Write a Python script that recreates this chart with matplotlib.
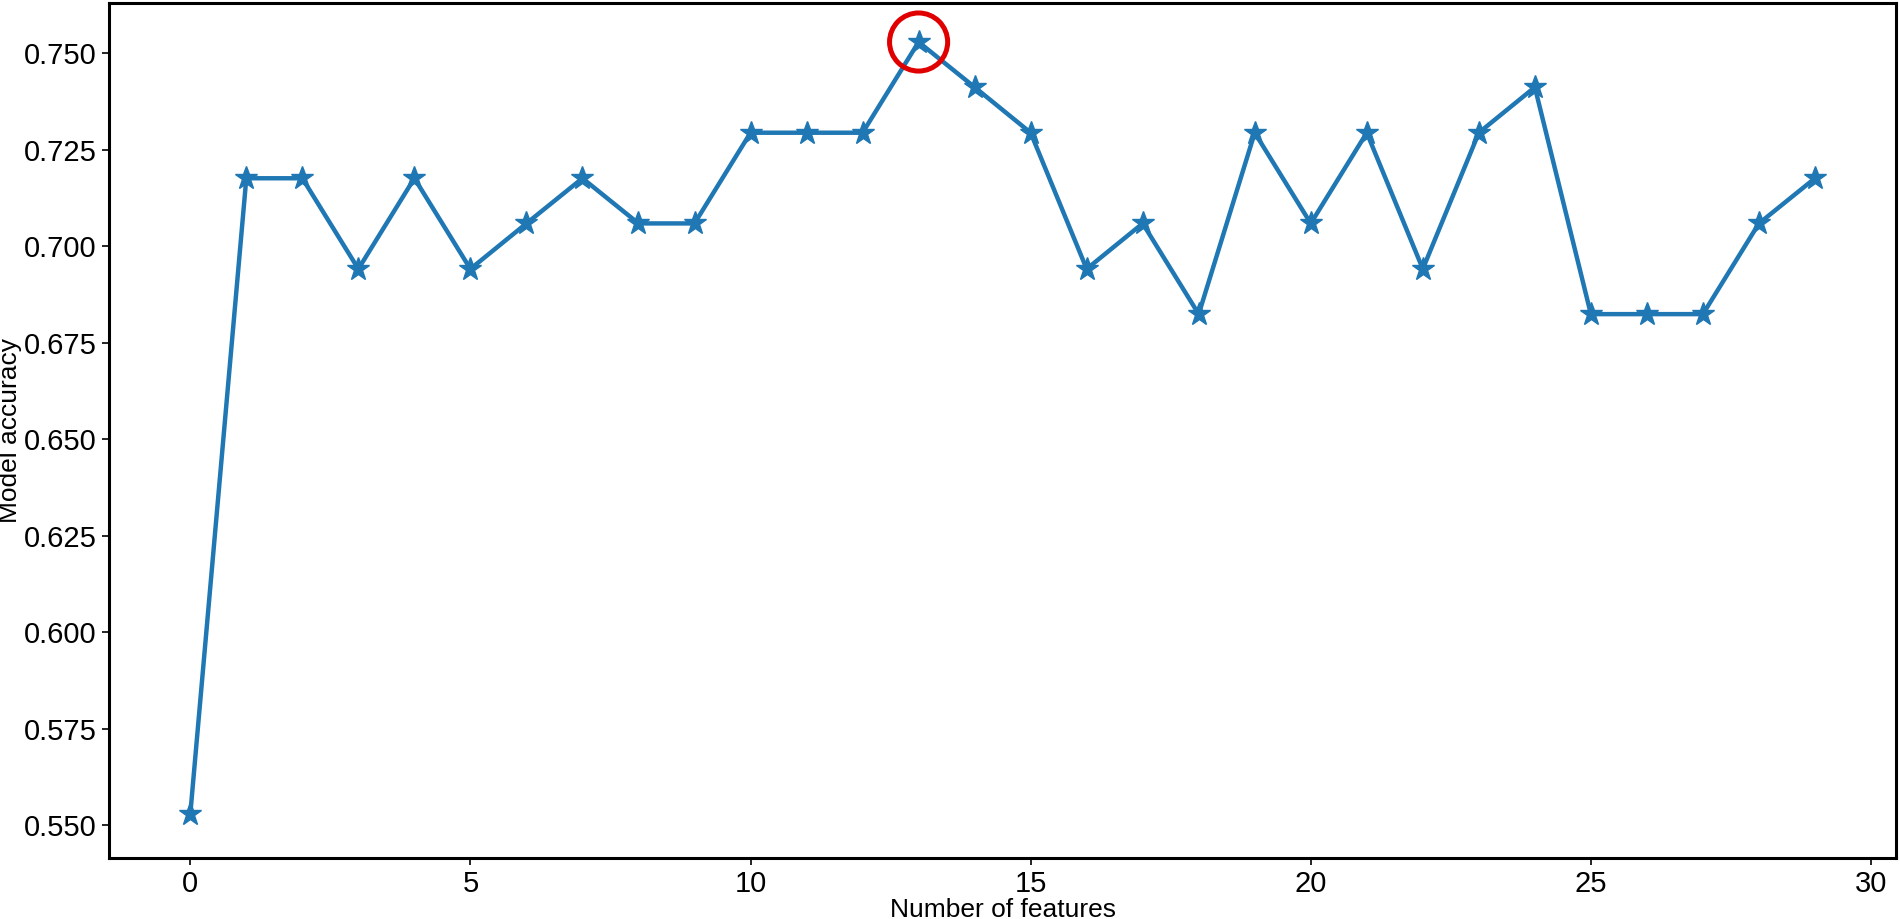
import numpy as np
import matplotlib
matplotlib.use("Agg")
import matplotlib.pyplot as plt

plt.rcParams["font.family"] = ["Liberation Sans", "DejaVu Sans"]

# number of features (index) and model accuracy
n_features = list(range(30))
accuracy = [
    0.5529, 0.7176, 0.7176, 0.6941, 0.7176, 0.6941, 0.7059, 0.7176, 0.7059, 0.7059,
    0.7294, 0.7294, 0.7294, 0.7529, 0.7412, 0.7294, 0.6941, 0.7059, 0.6824, 0.7294,
    0.7059, 0.7294, 0.6941, 0.7294, 0.7412, 0.6824, 0.6824, 0.6824, 0.7059, 0.7176,
]
best = int(np.argmax(accuracy))

fig = plt.figure(figsize=(19, 9.19), dpi=100)
ax = fig.add_axes([0.0574, 0.0664, 0.9406, 0.9303])

ax.plot(n_features, accuracy, marker="*", linestyle="-", color="#1f77b4",
        linewidth=3.2, markersize=17)
ax.scatter([n_features[best]], [accuracy[best]], s=1750, facecolors="none",
           edgecolors="#e00000", linewidths=3.6, zorder=5)

ax.set_xlabel("Number of features", fontsize=19, labelpad=0)
ax.set_ylabel("Model accuracy", fontsize=19, labelpad=1)
ax.tick_params(labelsize=21, width=1.2, length=5, pad=4)
ax.set_yticks([0.55, 0.575, 0.6, 0.625, 0.65, 0.675, 0.7, 0.725, 0.75])
ax.set_yticklabels(["%.3f" % v for v in ax.get_yticks()])
ax.set_xlim(-1.45, 30.45)
ax.set_ylim(0.5415, 0.763)
for s in ax.spines.values():
    s.set_linewidth(2.2)

fig.savefig("out.png", dpi=100)
